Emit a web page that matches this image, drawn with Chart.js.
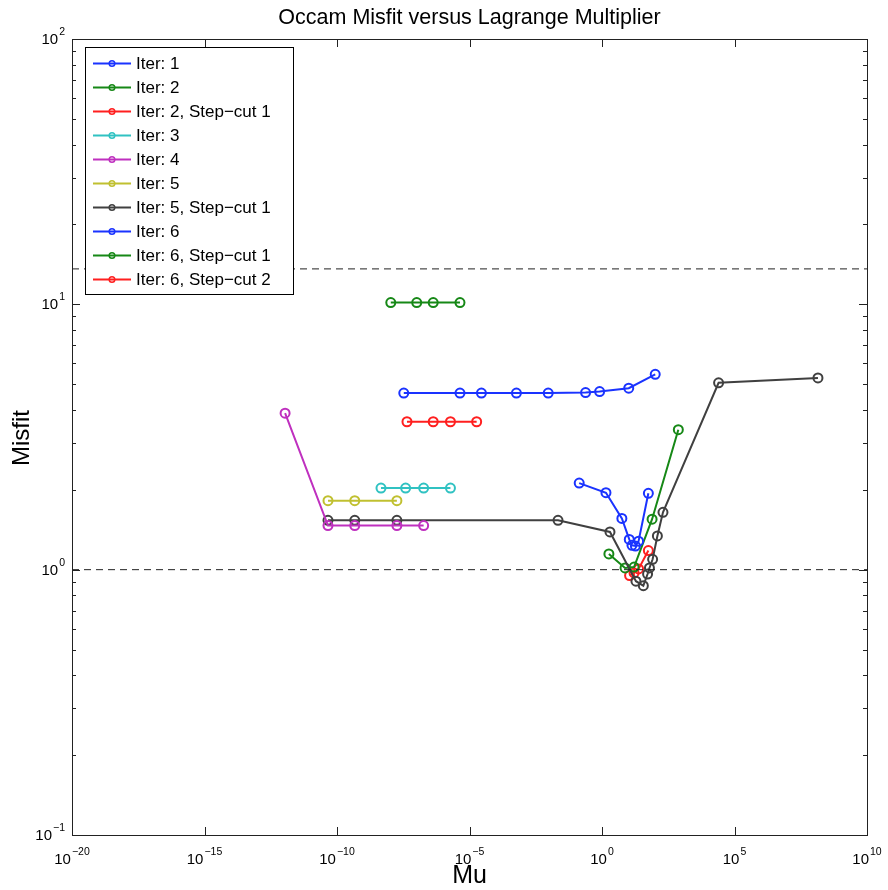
<!DOCTYPE html>
<html><head><meta charset="utf-8">
<script src="https://cdn.jsdelivr.net/npm/chart.js@4.4.0/dist/chart.umd.min.js"></script>
<style>html,body{margin:0;padding:0;background:#fff}#wrap{width:888px;height:890px}</style>
</head><body><div id="wrap"><canvas id="c" width="888" height="890"></canvas></div>
<script>
// ---- data ----
const seriesLabels = ["Iter: 1","Iter: 2","Iter: 2, Step\u2212cut 1","Iter: 3","Iter: 4","Iter: 5","Iter: 5, Step\u2212cut 1","Iter: 6","Iter: 6, Step\u2212cut 1","Iter: 6, Step\u2212cut 2"];
const seriesColors = ["#1a33ff","#168816","#ff1f1f","#30c2c2","#bf30bf","#c0c030","#404040","#1a33ff","#168816","#ff1f1f"];

const iter1Mu      = [3.31e-8, 4.37e-6, 2.82e-5, 5.89e-4, 9.33e-3, 0.240, 0.813, 10.2, 102];
const iter1Misfit  = [4.63, 4.63, 4.63, 4.63, 4.63, 4.65, 4.69, 4.83, 5.45];
const iter2Mu      = [1.07e-8, 1.02e-7, 4.27e-7, 4.37e-6];
const iter2Misfit  = [10.15, 10.15, 10.15, 10.15];
const iter2s1Mu    = [4.37e-8, 4.27e-7, 1.91e-6, 1.86e-5];
const iter2s1Misfit= [3.61, 3.61, 3.61, 3.61];
const iter3Mu      = [4.57e-9, 3.89e-8, 1.86e-7, 1.91e-6];
const iter3Misfit  = [2.03, 2.03, 2.03, 2.03];
const iter4Mu      = [1.10e-12, 4.57e-11, 4.68e-10, 1.82e-8, 1.86e-7];
const iter4Misfit  = [3.89, 1.466, 1.466, 1.466, 1.466];
const iter5Mu      = [4.57e-11, 4.68e-10, 1.82e-8];
const iter5Misfit  = [1.82, 1.82, 1.82];
const iter5s1Mu    = [4.57e-11, 4.68e-10, 1.82e-8, 0.0219, 2.0, 19.1, 36.3, 52.5, 61.7, 81.3, 123, 200, 2.51e4, 1.41e8];
const iter5s1Misfit= [1.535, 1.535, 1.535, 1.535, 1.387, 0.905, 0.870, 0.963, 1.015, 1.094, 1.34, 1.645, 5.06, 5.28];
const iter6Mu      = [0.138, 1.41, 5.62, 10.7, 13.5, 18.2, 24.0, 56.2];
const iter6Misfit  = [2.12, 1.95, 1.56, 1.30, 1.235, 1.228, 1.28, 1.94];
const iter6s1Mu    = [1.82, 7.41, 16.2, 77.6, 759];
const iter6s1Misfit= [1.146, 1.015, 1.023, 1.55, 3.37];
const iter6s2Mu    = [11.0, 16.2, 24.0, 56.2];
const iter6s2Misfit= [0.95, 0.972, 1.006, 1.18];

const refLineMu = [1e-20, 1e10];
const targetMisfit = 1.0;
const upperMisfit = 13.6;

const xMajorExps = [-20, -15, -10, -5, 0, 5, 10];
const yMajorExps = [-1, 0, 1, 2];

const allMu = [iter1Mu, iter2Mu, iter2s1Mu, iter3Mu, iter4Mu, iter5Mu, iter5s1Mu, iter6Mu, iter6s1Mu, iter6s2Mu];
const allMisfit = [iter1Misfit, iter2Misfit, iter2s1Misfit, iter3Misfit, iter4Misfit, iter5Misfit, iter5s1Misfit, iter6Misfit, iter6s1Misfit, iter6s2Misfit];

const FONT = '"Liberation Sans", Arial, Helvetica, sans-serif';

const datasets = [];
[upperMisfit, targetMisfit].forEach(v => {
  datasets.push({
    label: '_ref', data: refLineMu.map(m => ({x: m, y: v})), showLine: true,
    borderColor: '#222', borderWidth: 1, borderDash: [7, 5], pointRadius: 0, fill: false
  });
});
seriesLabels.forEach((lab, i) => {
  datasets.push({
    label: lab,
    data: allMu[i].map((m, j) => ({x: m, y: allMisfit[i][j]})),
    showLine: true, borderColor: seriesColors[i], borderWidth: 2,
    pointStyle: 'circle', pointRadius: 4.5, pointBorderWidth: 2,
    pointBorderColor: seriesColors[i], pointBackgroundColor: 'rgba(0,0,0,0)',
    fill: false, tension: 0
  });
});

function supLabel(ctx, exp, x, y, mode) {
  const base = '10';
  const e = exp < 0 ? '\u2212' + Math.abs(exp) : String(exp);
  ctx.font = '15px ' + FONT;
  const wb = ctx.measureText(base).width;
  ctx.font = '10.5px ' + FONT;
  const we = ctx.measureText(e).width;
  const total = wb + we + 1;
  let x0 = mode === 'center' ? x - total / 2 : x - total;
  ctx.fillStyle = '#000';
  ctx.textAlign = 'left';
  ctx.textBaseline = 'alphabetic';
  ctx.font = '15px ' + FONT;
  ctx.fillText(base, x0, y);
  ctx.font = '10.5px ' + FONT;
  ctx.fillText(e, x0 + wb + 1, y - 9);
}

const axesPlugin = {
  id: 'matlabAxes',
  afterDatasetsDraw(chart) {
    const ctx = chart.ctx, a = chart.chartArea;
    const xs = chart.scales.x, ys = chart.scales.y;
    ctx.save();
    // frame
    ctx.strokeStyle = '#222'; ctx.lineWidth = 1;
    ctx.strokeRect(Math.round(a.left) + 0.5, Math.round(a.top) + 0.5, Math.round(a.right - a.left), Math.round(a.bottom - a.top));
    // x ticks
    ctx.beginPath();
    xMajorExps.forEach(e => {
      const px = Math.round(xs.getPixelForValue(Math.pow(10, e))) + 0.5;
      ctx.moveTo(px, a.bottom); ctx.lineTo(px, a.bottom - 8);
      ctx.moveTo(px, a.top); ctx.lineTo(px, a.top + 8);
    });
    // y ticks major + minor
    for (let d = -1; d <= 2; d++) {
      const py = Math.round(ys.getPixelForValue(Math.pow(10, d))) + 0.5;
      ctx.moveTo(a.left, py); ctx.lineTo(a.left + 8, py);
      ctx.moveTo(a.right, py); ctx.lineTo(a.right - 8, py);
      if (d < 2) {
        for (let k = 2; k <= 9; k++) {
          const pm = Math.round(ys.getPixelForValue(k * Math.pow(10, d))) + 0.5;
          ctx.moveTo(a.left, pm); ctx.lineTo(a.left + 4, pm);
          ctx.moveTo(a.right, pm); ctx.lineTo(a.right - 4, pm);
        }
      }
    }
    ctx.stroke();
    // tick labels
    xMajorExps.forEach(e => {
      supLabel(ctx, e, xs.getPixelForValue(Math.pow(10, e)), a.bottom + 29, 'center');
    });
    yMajorExps.forEach(e => {
      supLabel(ctx, e, a.left - 7, ys.getPixelForValue(Math.pow(10, e)) + 5, 'right');
    });
    // titles
    ctx.fillStyle = '#000';
    ctx.textAlign = 'center'; ctx.textBaseline = 'middle';
    ctx.font = '21.5px ' + FONT;
    ctx.fillText('Occam Misfit versus Lagrange Multiplier', (a.left + a.right) / 2, 18);
    ctx.font = '25px ' + FONT;
    ctx.fillText('Mu', (a.left + a.right) / 2, 876);
    ctx.save();
    ctx.translate(22, (a.top + a.bottom) / 2 + 1);
    ctx.rotate(-Math.PI / 2);
    ctx.font = '24px ' + FONT;
    ctx.fillText('Misfit', 0, 0);
    ctx.restore();
    // legend
    const lx = 85.5, ly = 47.5, lw = 208, lh = 247;
    ctx.fillStyle = '#fff';
    ctx.fillRect(lx, ly, lw, lh);
    ctx.strokeStyle = '#000'; ctx.lineWidth = 1;
    ctx.strokeRect(lx, ly, lw, lh);
    ctx.font = '17px ' + FONT;
    ctx.textAlign = 'left'; ctx.textBaseline = 'middle';
    seriesLabels.forEach((lab, i) => {
      const cy = 63.5 + i * 24;
      ctx.strokeStyle = seriesColors[i]; ctx.lineWidth = 2;
      ctx.beginPath(); ctx.moveTo(93, cy); ctx.lineTo(131, cy); ctx.stroke();
      ctx.lineWidth = 1.5;
      ctx.beginPath(); ctx.arc(112, cy, 2.8, 0, Math.PI * 2); ctx.stroke();
      ctx.fillStyle = '#000';
      ctx.fillText(lab, 136, cy + 1);
    });
    ctx.restore();
  }
};

new Chart(document.getElementById('c'), {
  type: 'scatter',
  data: { datasets },
  options: {
    responsive: false, animation: false, devicePixelRatio: 1,
    layout: { padding: { left: 72, right: 21, top: 39, bottom: 55 } },
    plugins: { legend: { display: false }, title: { display: false }, tooltip: { enabled: false } },
    scales: {
      x: { type: 'logarithmic', min: 1e-20, max: 1e10, display: false },
      y: { type: 'logarithmic', min: 0.1, max: 100, display: false }
    }
  },
  plugins: [axesPlugin]
});
</script>
</body></html>
